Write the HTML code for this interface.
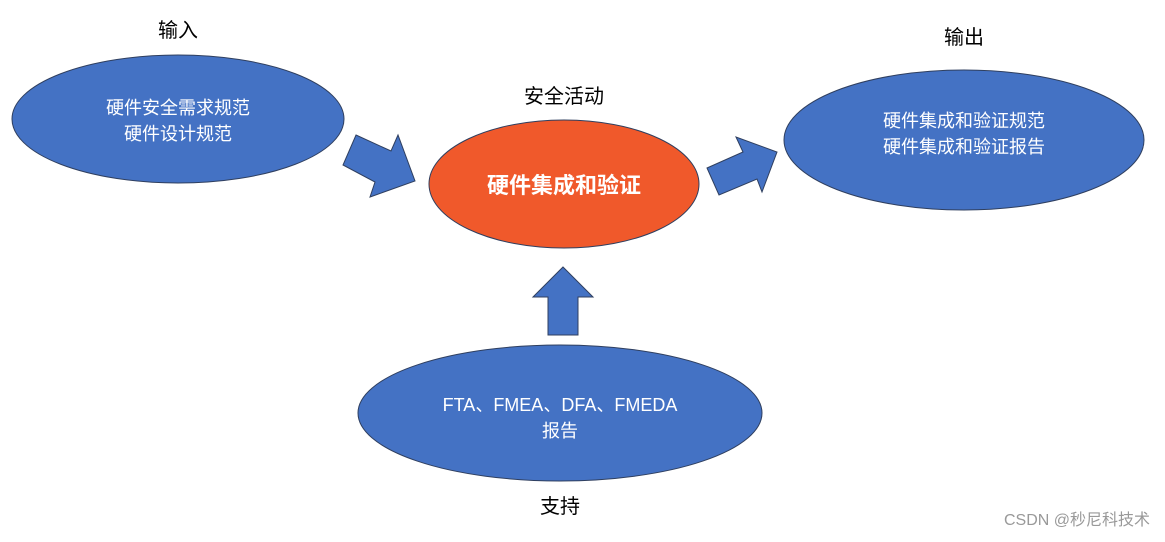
<!DOCTYPE html>
<html><head><meta charset="utf-8"><style>
body{margin:0;background:#fff;}
svg text{font-family:"Liberation Sans","Noto Sans CJK SC",sans-serif;}
</style></head><body>
<svg width="1165" height="537" viewBox="0 0 1165 537" xmlns="http://www.w3.org/2000/svg">
<g stroke="#2f3f5f" stroke-width="1">
<ellipse cx="178" cy="119" rx="166" ry="64" fill="#4472c4"/>
<ellipse cx="564" cy="184" rx="135" ry="64" fill="#f0592b"/>
<ellipse cx="964" cy="140" rx="180" ry="70" fill="#4472c4"/>
<ellipse cx="560" cy="413" rx="202" ry="68" fill="#4472c4"/>
<polygon points="356,135 391,151 398,135 415,181 370,197 375,182 343,165" fill="#4472c4"/>
<polygon points="707,168 743,152 736,137 777,152 762,192 757,179 719,195" fill="#4472c4"/>
<polygon points="563,267 593,297 578,297 578,335 548,335 548,297 533,297" fill="#4472c4"/>
</g>
<g font-size="20" fill="#000" text-anchor="middle">
<text x="178" y="37">输入</text>
<text x="564" y="103">安全活动</text>
<text x="964" y="44">输出</text>
<text x="560" y="513">支持</text>
</g>
<g font-size="18" fill="#fff" text-anchor="middle">
<text x="178" y="114">硬件安全需求规范</text>
<text x="178" y="140">硬件设计规范</text>
<text x="964" y="127">硬件集成和验证规范</text>
<text x="964" y="153">硬件集成和验证报告</text>
<text x="560" y="411">FTA、FMEA、DFA、FMEDA</text>
<text x="560" y="437">报告</text>
<text x="564" y="193" font-size="22" font-weight="bold">硬件集成和验证</text>
</g>
<text x="1150" y="525" font-size="16" fill="#999" text-anchor="end">CSDN @秒尼科技术</text>
</svg>
</body></html>
